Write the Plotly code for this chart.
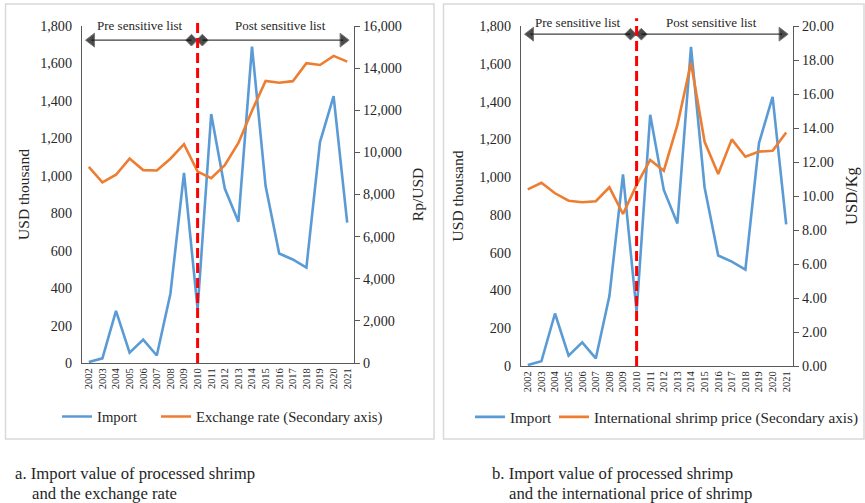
import plotly.graph_objects as go

# ---------------- data ----------------
years = list(range(2002, 2022))
year_labels = [str(y) for y in years]
import_usd_thousand = [5, 25, 278, 55, 125, 40, 370, 1015, 288, 1330,
                       932, 755, 1690, 945, 585, 553, 510, 1180, 1425, 750]
exchange_rate = [9311, 8577, 8939, 9705, 9159, 9141, 9699, 10390, 9090, 8770,
                 9387, 10450, 11980, 13389, 13308, 13381, 14237, 14148, 14582, 14308]
shrimp_price = [10.39, 10.78, 10.16, 9.72, 9.63, 9.69, 10.51, 8.94, 10.65, 12.12,
                11.49, 14.18, 17.84, 13.19, 11.29, 13.33, 12.31, 12.61, 12.66, 13.73]
policy_year = 2010
period_labels = ["Pre sensitive list", "Post sensitive list"]
captions = [["a. Import value of processed shrimp", "and the exchange rate"],
            ["b. Import value of processed shrimp", "and the international price of shrimp"]]

# ---------------- style ----------------
W, H = 865, 503
FONT = "Liberation Serif, Times New Roman, serif"
TXT = "#262626"
BLUE = "#5B9BD5"
ORANGE = "#ED7D31"
AX = "#595959"


def px_x(p):
    return p / W


def px_y(p):
    return 1 - p / H


fig = go.Figure()

# left chart traces
fig.add_trace(go.Scatter(x=years, y=import_usd_thousand, name="Import", mode="lines",
                         line=dict(color=BLUE, width=2.6), xaxis="x", yaxis="y", legend="legend"))
fig.add_trace(go.Scatter(x=years, y=exchange_rate, name="Exchange rate (Secondary axis)", mode="lines",
                         line=dict(color=ORANGE, width=2.6), xaxis="x", yaxis="y2", legend="legend2"))
# right chart traces
fig.add_trace(go.Scatter(x=years, y=import_usd_thousand, name="Import", mode="lines",
                         line=dict(color=BLUE, width=2.6), xaxis="x2", yaxis="y3", legend="legend3"))
fig.add_trace(go.Scatter(x=years, y=shrimp_price, name="International shrimp price (Secondary axis)",
                         mode="lines", line=dict(color=ORANGE, width=2.6), xaxis="x2", yaxis="y4",
                         legend="legend4"))

# period arrows (decorations)
for xa, ya, yfrac in [("x", "y", 0.958), ("x2", "y3", 0.976)]:
    yy = 1800 * yfrac
    fig.add_trace(go.Scatter(x=[years[0] + 0.2, policy_year - 0.45], y=[yy, yy], mode="lines+markers",
                             line=dict(color="#404040", width=1.3),
                             marker=dict(symbol=["triangle-left", "diamond"], size=[12, 9], color="black"),
                             xaxis=xa, yaxis=ya, showlegend=False, hoverinfo="skip"))
    fig.add_trace(go.Scatter(x=[policy_year + 0.35, years[-1] - 0.3], y=[yy, yy], mode="lines+markers",
                             line=dict(color="#404040", width=1.3),
                             marker=dict(symbol=["diamond", "triangle-right"], size=[9, 12], color="black"),
                             xaxis=xa, yaxis=ya, showlegend=False, hoverinfo="skip"))

xcommon = dict(range=[years[0] - 0.5, years[-1] + 0.5], tickmode="array", tickvals=years,
               ticktext=year_labels, tickangle=-90, showgrid=False, zeroline=False, automargin=False,
               showline=True, linecolor=AX, linewidth=1.2, ticks="",
               tickfont=dict(family=FONT, size=10.5, color=TXT))
yleft = dict(range=[0, 1800], dtick=200, tickformat=",", showgrid=False, zeroline=False,
             showline=True, linecolor=AX, linewidth=1.2, ticks="", ticklabelstandoff=6, automargin=False,
             tickfont=dict(family=FONT, size=14.2, color=TXT))
yright = dict(showgrid=False, zeroline=False, showline=True, linecolor=AX, linewidth=1.2,
              ticks="outside", ticklen=5, tickcolor=AX, side="right", automargin=False,
              tickfont=dict(family=FONT, size=14.2, color=TXT))


def leg(xp, size):
    return dict(orientation="h", x=px_x(xp), y=px_y(417), xanchor="left", yanchor="middle",
                font=dict(family=FONT, size=size, color=TXT), bgcolor="rgba(0,0,0,0)")


def ttl(text, standoff, size=15.5):
    return dict(text=text, font=dict(family=FONT, size=size, color=TXT), standoff=standoff)


fig.update_layout(
    width=W, height=H, margin=dict(l=0, r=0, t=0, b=0, pad=0, autoexpand=False),
    paper_bgcolor="white", plot_bgcolor="white",
    font=dict(family=FONT, color=TXT),
    xaxis=dict(domain=[px_x(82), px_x(354)], anchor="y", **xcommon),
    yaxis=dict(domain=[px_y(363), px_y(26)], anchor="x", title=ttl("USD thousand", 6), **yleft),
    yaxis2=dict(overlaying="y", anchor="x", range=[0, 16000], dtick=2000, tickformat=",",
                title=ttl("Rp/USD", 11), **yright),
    xaxis2=dict(domain=[px_x(521), px_x(793)], anchor="y3", **xcommon),
    yaxis3=dict(domain=[px_y(366), px_y(26)], anchor="x2", title=ttl("USD thousand", 11), **yleft),
    yaxis4=dict(overlaying="y3", anchor="x2", range=[0, 20], dtick=2, tickformat=".2f",
                title=ttl("USD/Kg", 12, 16.5), **yright),
    legend=leg(57, 14.7), legend2=leg(156, 14.7), legend3=leg(470, 15.2), legend4=leg(554, 15.2),
    showlegend=True,
)

shapes = []
# frames
shapes.append(dict(type="rect", xref="paper", yref="paper", x0=px_x(5.5), x1=px_x(434),
                   y0=px_y(439), y1=px_y(4), line=dict(color="#D9D9D9", width=1.5)))
shapes.append(dict(type="rect", xref="paper", yref="paper", x0=px_x(443.5), x1=px_x(864),
                   y0=px_y(439), y1=px_y(4), line=dict(color="#D9D9D9", width=1.5)))
# policy lines
for xr, yr, top in [("x", "y domain", 1.015), ("x2", "y3 domain", 1.023)]:
    shapes.append(dict(type="line", xref=xr, yref=yr, x0=policy_year, x1=policy_year, y0=0, y1=top,
                       line=dict(color="#FF0000", width=3, dash="10px,5px")))
fig.update_layout(shapes=shapes)

ann = []
for xr, yr, ylev, xs in [("x", "y domain", 1.0, (2005.76, 2016.13)),
                         ("x2", "y3 domain", 1.01, (2005.69, 2015.52))]:
    for lab, xv in zip(period_labels, xs):
        ann.append(dict(text=lab, xref=xr, yref=yr, x=xv, y=ylev, showarrow=False,
                        xanchor="center", yanchor="middle", font=dict(family=FONT, size=13, color=TXT)))
for cap, x1, x2 in [(captions[0], 13, 30), (captions[1], 490, 507)]:
    ann.append(dict(text=cap[0], xref="paper", yref="paper", x=px_x(x1), y=px_y(473), showarrow=False,
                    xanchor="left", yanchor="middle", font=dict(family=FONT, size=16.7, color=TXT)))
    ann.append(dict(text=cap[1], xref="paper", yref="paper", x=px_x(x2), y=px_y(493), showarrow=False,
                    xanchor="left", yanchor="middle", font=dict(family=FONT, size=16.7, color=TXT)))
fig.update_layout(annotations=ann)

fig.write_html("out.html", config={"displayModeBar": False},
               post_script="document.body.style.margin='0';document.body.style.overflow='hidden';")
